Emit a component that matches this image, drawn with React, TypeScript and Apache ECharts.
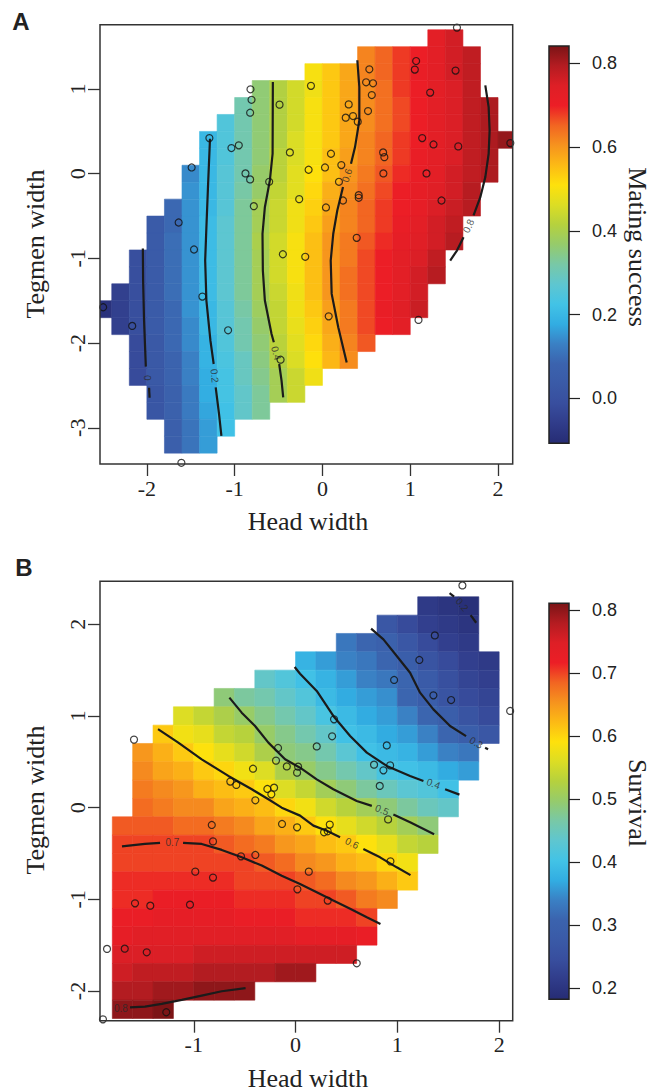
import React, { useEffect, useRef } from "react";
import * as echarts from "echarts";

// ---------------- tick labels ----------------
const headWidthTicksA = [-2, -1, 0, 1, 2];
const tegmenWidthTicksA = [-3, -2, -1, 0, 1];
const matingSuccessTicks = [0.0, 0.2, 0.4, 0.6, 0.8];
const headWidthTicksB = [-1, 0, 1, 2];
const tegmenWidthTicksB = [-2, -1, 0, 1, 2];
const survivalTicks = [0.2, 0.3, 0.4, 0.5, 0.6, 0.7, 0.8];

// ---------------- axis ranges ----------------
const headRangeA = [-2.534, 2.167];
const tegmenRangeA = [-3.428, 1.76];
const matingSuccessRange = [-0.1075, 0.8413];
const headRangeB = [-1.921, 2.133];
const tegmenRangeB = [-2.324, 2.469];
const survivalRange = [0.1826, 0.8106];

// ---------------- observed individuals [head width, tegmen width] ----------------
const pointsA = [
  [1.532, 1.726], [1.067, 1.331], [1.052, 1.23], [1.516, 1.218], [0.534, 1.233], [0.497, 1.08],
  [0.576, 1.068], [-0.131, 1.038], [-0.82, 0.997], [-0.808, 0.873], [-0.824, 0.721], [-0.489, 0.816],
  [1.227, 0.958], [0.562, 0.929], [0.299, 0.819], [0.519, 0.74], [0.265, 0.662], [0.348, 0.681],
  [0.402, 0.615], [-1.288, 0.421], [-1.037, 0.303], [-0.953, 0.335], [-0.371, 0.252], [0.097, 0.236],
  [1.136, 0.421], [1.265, 0.346], [1.547, 0.323], [2.14, 0.362], [0.691, 0.252], [0.705, 0.196],
  [-1.49, 0.074], [-0.877, 0.004], [-0.824, -0.067], [-0.158, 0.047], [0.029, 0.074], [0.215, 0.102],
  [-0.607, -0.095], [0.188, -0.095], [0.694, 0.004], [1.185, 0.004], [-0.782, -0.383], [-0.265, -0.3],
  [0.04, -0.398], [0.234, -0.316], [0.413, -0.253], [0.413, -0.284], [1.356, -0.316], [-1.638, -0.576],
  [-1.463, -0.895], [-0.451, -0.951], [-0.196, -0.981], [0.39, -0.757], [-1.368, -1.451], [-2.498, -1.577],
  [-2.167, -1.797], [-1.075, -1.849], [0.071, -1.684], [1.094, -1.726], [-0.477, -2.196], [-1.607, -3.414],
];

const pointsB = [
  [-1.587, 0.742], [-0.172, 0.651], [-0.192, 0.513], [-0.086, 0.45], [0.025, 0.447], [0.015, 0.382],
  [-0.418, 0.425], [-0.641, 0.284], [-0.582, 0.248], [-0.277, 0.204], [-0.211, 0.218], [-0.238, 0.145],
  [-0.395, 0.08], [1.639, 2.424], [1.368, 1.879], [1.216, 1.611], [0.968, 1.393], [1.354, 1.225],
  [1.528, 1.174], [2.108, 1.055], [0.378, 0.963], [0.359, 0.778], [0.208, 0.668], [0.896, 0.679],
  [0.771, 0.469], [0.929, 0.461], [0.863, 0.407], [0.827, 0.237], [-0.133, -0.178], [0.015, -0.215],
  [-0.823, -0.189], [-0.811, -0.368], [-0.536, -0.531], [-0.395, -0.516], [-0.985, -0.698], [-0.811, -0.763],
  [0.018, -0.891], [-1.577, -1.044], [-1.427, -1.069], [-1.037, -1.058], [-1.852, -1.541], [-1.678, -1.538],
  [-1.462, -1.578], [-1.27, -2.232], [-1.892, -2.309], [0.336, -0.185], [0.28, -0.269], [0.316, -0.258],
  [0.909, -0.128], [0.13, -0.698], [0.932, -0.586], [0.316, -1.014], [0.601, -1.698],
];

// ---------------- fitted surfaces, read row by row ----------------
// [tegmen width of row centre, head width of first cell centre, values of consecutive cells]
const matingSuccessRows = [
  [1.6, 1.3, [0.73, 0.76]],
  [1.4, 0.5, [0.62, 0.65, 0.68, 0.7, 0.73, 0.76, 0.78]],
  [1.2, -0.1, [0.5, 0.54, 0.58, 0.62, 0.65, 0.68, 0.71, 0.73, 0.76, 0.78]],
  [1.0, -0.7, [0.36, 0.41, 0.45, 0.49, 0.54, 0.58, 0.61, 0.64, 0.68, 0.7, 0.73, 0.75, 0.78]],
  [0.8, -0.9, [0.31, 0.36, 0.41, 0.45, 0.5, 0.54, 0.58, 0.61, 0.64, 0.67, 0.7, 0.73, 0.75, 0.78, 0.8]],
  [0.6, -1.1, [0.25, 0.31, 0.36, 0.41, 0.45, 0.5, 0.54, 0.58, 0.61, 0.64, 0.67, 0.7, 0.73, 0.75, 0.78, 0.8]],
  [0.4, -1.3, [0.2, 0.25, 0.31, 0.36, 0.41, 0.46, 0.5, 0.54, 0.58, 0.62, 0.65, 0.68, 0.7, 0.73, 0.75, 0.78, 0.8, 0.82]],
  [0.2, -1.3, [0.2, 0.25, 0.31, 0.36, 0.42, 0.46, 0.5, 0.55, 0.59, 0.62, 0.65, 0.68, 0.71, 0.73, 0.75, 0.78, 0.8]],
  [0.0, -1.5, [0.14, 0.2, 0.26, 0.31, 0.37, 0.42, 0.47, 0.51, 0.55, 0.6, 0.63, 0.66, 0.69, 0.71, 0.73, 0.76, 0.78, 0.8]],
  [-0.2, -1.5, [0.15, 0.2, 0.26, 0.32, 0.37, 0.43, 0.47, 0.52, 0.57, 0.61, 0.64, 0.67, 0.7, 0.72, 0.74, 0.76, 0.79]],
  [-0.4, -1.7, [0.09, 0.15, 0.2, 0.26, 0.33, 0.39, 0.44, 0.49, 0.53, 0.58, 0.62, 0.65, 0.68, 0.7, 0.72, 0.75, 0.77, 0.79]],
  [-0.6, -1.9, [0.04, 0.09, 0.15, 0.21, 0.27, 0.33, 0.39, 0.44, 0.49, 0.54, 0.59, 0.62, 0.65, 0.68, 0.71, 0.73, 0.76, 0.78]],
  [-0.8, -1.9, [0.04, 0.1, 0.15, 0.21, 0.27, 0.33, 0.4, 0.45, 0.5, 0.55, 0.6, 0.63, 0.66, 0.69, 0.72, 0.74, 0.76, 0.79]],
  [-1.0, -2.1, [-0.01, 0.04, 0.1, 0.15, 0.21, 0.27, 0.33, 0.39, 0.45, 0.5, 0.55, 0.6, 0.63, 0.67, 0.7, 0.73, 0.75, 0.78]],
  [-1.2, -2.1, [-0.01, 0.04, 0.1, 0.15, 0.21, 0.27, 0.33, 0.39, 0.45, 0.5, 0.55, 0.6, 0.64, 0.67, 0.7, 0.73, 0.76, 0.79]],
  [-1.4, -2.3, [-0.05, -0.01, 0.04, 0.1, 0.15, 0.21, 0.27, 0.33, 0.39, 0.44, 0.49, 0.55, 0.6, 0.64, 0.67, 0.7, 0.73, 0.76]],
  [-1.6, -2.5, [-0.09, -0.05, -0.01, 0.04, 0.09, 0.15, 0.2, 0.26, 0.32, 0.38, 0.43, 0.49, 0.54, 0.59, 0.63, 0.67, 0.71, 0.74, 0.77]],
  [-1.8, -2.3, [-0.05, -0.01, 0.04, 0.09, 0.14, 0.2, 0.26, 0.31, 0.37, 0.43, 0.48, 0.53, 0.58, 0.63, 0.67, 0.7, 0.73]],
  [-2.0, -2.1, [-0.02, 0.03, 0.09, 0.14, 0.19, 0.25, 0.31, 0.36, 0.42, 0.47, 0.52, 0.57, 0.62, 0.66]],
  [-2.2, -2.1, [-0.02, 0.03, 0.08, 0.13, 0.19, 0.24, 0.29, 0.35, 0.41, 0.46, 0.51, 0.56, 0.61]],
  [-2.4, -2.1, [-0.02, 0.03, 0.08, 0.13, 0.18, 0.23, 0.29, 0.34, 0.39, 0.44, 0.49]],
  [-2.6, -1.9, [0.02, 0.07, 0.12, 0.18, 0.23, 0.28, 0.33, 0.39, 0.44]],
  [-2.8, -1.9, [0.02, 0.07, 0.12, 0.17, 0.22, 0.28, 0.33]],
  [-3.0, -1.7, [0.06, 0.11, 0.16, 0.22]],
  [-3.2, -1.7, [0.06, 0.11, 0.16]],
];

const survivalRows = [
  [2.2, 1.3, [0.21, 0.2, 0.19]],
  [2.0, 0.9, [0.27, 0.24, 0.22, 0.21, 0.2]],
  [1.8, 0.5, [0.33, 0.31, 0.3, 0.27, 0.24, 0.22, 0.21]],
  [1.6, 0.1, [0.38, 0.36, 0.34, 0.33, 0.31, 0.29, 0.26, 0.24, 0.22, 0.21]],
  [1.4, -0.3, [0.44, 0.42, 0.4, 0.38, 0.36, 0.34, 0.33, 0.31, 0.28, 0.25, 0.23, 0.22]],
  [1.2, -0.7, [0.49, 0.47, 0.46, 0.44, 0.42, 0.39, 0.37, 0.36, 0.35, 0.31, 0.29, 0.26, 0.24, 0.23]],
  [1.0, -1.1, [0.56, 0.54, 0.52, 0.5, 0.48, 0.46, 0.44, 0.41, 0.39, 0.37, 0.36, 0.34, 0.31, 0.29, 0.26, 0.24]],
  [0.8, -1.3, [0.61, 0.58, 0.57, 0.54, 0.53, 0.5, 0.48, 0.46, 0.44, 0.4, 0.39, 0.37, 0.36, 0.34, 0.31, 0.29, 0.27]],
  [0.6, -1.5, [0.65, 0.63, 0.61, 0.59, 0.57, 0.55, 0.52, 0.49, 0.48, 0.46, 0.43, 0.4, 0.39, 0.38, 0.36, 0.34, 0.33]],
  [0.4, -1.5, [0.66, 0.64, 0.63, 0.61, 0.6, 0.58, 0.56, 0.52, 0.5, 0.48, 0.46, 0.44, 0.41, 0.4, 0.39, 0.37, 0.36]],
  [0.2, -1.5, [0.67, 0.66, 0.65, 0.63, 0.62, 0.61, 0.59, 0.56, 0.54, 0.51, 0.49, 0.47, 0.45, 0.43, 0.42, 0.4]],
  [0.0, -1.5, [0.68, 0.67, 0.66, 0.66, 0.64, 0.63, 0.62, 0.6, 0.58, 0.55, 0.53, 0.51, 0.49, 0.47, 0.45, 0.44]],
  [-0.2, -1.7, [0.69, 0.69, 0.69, 0.68, 0.68, 0.67, 0.66, 0.64, 0.63, 0.61, 0.59, 0.57, 0.55, 0.53, 0.51, 0.49]],
  [-0.4, -1.7, [0.7, 0.7, 0.7, 0.7, 0.7, 0.69, 0.68, 0.67, 0.65, 0.64, 0.62, 0.61, 0.59, 0.57, 0.54, 0.53]],
  [-0.6, -1.7, [0.7, 0.7, 0.7, 0.7, 0.7, 0.7, 0.7, 0.69, 0.68, 0.66, 0.65, 0.63, 0.62, 0.6, 0.58]],
  [-0.8, -1.7, [0.71, 0.71, 0.71, 0.71, 0.71, 0.71, 0.7, 0.7, 0.7, 0.69, 0.68, 0.66, 0.65, 0.63, 0.61]],
  [-1.0, -1.7, [0.71, 0.71, 0.72, 0.72, 0.72, 0.72, 0.71, 0.71, 0.71, 0.7, 0.7, 0.69, 0.67, 0.66]],
  [-1.2, -1.7, [0.72, 0.72, 0.73, 0.73, 0.73, 0.73, 0.72, 0.72, 0.72, 0.71, 0.71, 0.71, 0.7]],
  [-1.4, -1.7, [0.73, 0.74, 0.74, 0.74, 0.74, 0.74, 0.74, 0.74, 0.74, 0.73, 0.73, 0.73, 0.72]],
  [-1.6, -1.7, [0.75, 0.75, 0.75, 0.75, 0.76, 0.76, 0.76, 0.76, 0.76, 0.76, 0.76, 0.76]],
  [-1.8, -1.7, [0.76, 0.77, 0.77, 0.77, 0.78, 0.78, 0.78, 0.78, 0.79, 0.79]],
  [-2.0, -1.7, [0.78, 0.78, 0.79, 0.79, 0.8, 0.8, 0.8]],
  [-2.2, -1.7, [0.8, 0.8, 0.81]],
];

// ---------------- contour lines (segments split where the label sits) ----------------
const contoursA = [
  { level: "0", segments: [[[-2.046, -0.883], [-2.043, -1.262], [-2.032, -1.735], [-2.012, -2.278]], [[-1.975, -2.527], [-1.969, -2.645]]], label: [-1.99, -2.41] },
  { level: "0.2", segments: [[[-1.281, 0.414], [-1.304, -0.158], [-1.322, -0.631], [-1.336, -1.025], [-1.322, -1.498], [-1.276, -1.971], [-1.239, -2.247]], [[-1.216, -2.523], [-1.178, -2.838], [-1.151, -3.095]]], label: [-1.228, -2.385] },
  { level: "0.4", segments: [[[-0.565, 1.083], [-0.568, 0.236], [-0.599, -0.079], [-0.656, -0.395], [-0.683, -0.709], [-0.679, -1.143], [-0.656, -1.498], [-0.58, -1.892], [-0.554, -1.991]], [[-0.493, -2.247], [-0.466, -2.444], [-0.447, -2.641]]], label: [-0.527, -2.12] },
  { level: "0.6", segments: [[[0.397, 1.34], [0.42, 1.024], [0.42, 0.63], [0.371, 0.315], [0.325, 0.118]], [[0.234, -0.158], [0.169, -0.434], [0.123, -0.709], [0.094, -1.025], [0.105, -1.419], [0.18, -1.814], [0.276, -2.228]]], label: [0.28, -0.02] },
  { level: "0.8", segments: [[[1.855, 1.044], [1.893, 0.787], [1.904, 0.512], [1.893, 0.236], [1.855, -0.04], [1.798, -0.277], [1.721, -0.493]], [[1.607, -0.75], [1.532, -0.907], [1.455, -1.025]]], label: [1.664, -0.617] },
];

const contoursB = [
  { level: "0.2", segments: [[[1.513, 2.339], [1.557, 2.301]], [[1.72, 2.099], [1.774, 2.017]]], label: [1.636, 2.214] },
  { level: "0.3", segments: [[[0.742, 1.952], [0.863, 1.835], [0.994, 1.654], [1.125, 1.472], [1.223, 1.254], [1.354, 1.072], [1.518, 0.891], [1.675, 0.78]], [[1.862, 0.654], [1.891, 0.638]]], label: [1.774, 0.709] },
  { level: "0.4", segments: [[[-0.009, 1.534], [0.044, 1.461], [0.208, 1.273], [0.371, 1.0], [0.536, 0.782], [0.7, 0.6], [0.896, 0.455], [1.125, 0.346], [1.256, 0.291]], [[1.469, 0.2], [1.61, 0.142]]], label: [1.354, 0.262] },
  { level: "0.5", segments: [[[-0.65, 1.2], [-0.529, 1.036], [-0.398, 0.891], [-0.267, 0.709], [-0.103, 0.527], [0.044, 0.436], [0.208, 0.309], [0.371, 0.2], [0.601, 0.073], [0.749, 0.019]], [[0.961, -0.076], [1.125, -0.16], [1.361, -0.291]]], label: [0.85, -0.025] },
  { level: "0.6", segments: [[[-1.351, 0.856], [-1.152, 0.709], [-0.922, 0.527], [-0.66, 0.346], [-0.43, 0.2], [-0.267, 0.091], [-0.136, 0.0], [0.044, -0.087], [0.175, -0.196], [0.307, -0.251], [0.437, -0.324]], [[0.666, -0.45], [0.83, -0.542], [0.994, -0.651], [1.129, -0.736]]], label: [0.555, -0.387] },
  { level: "0.7", segments: [[[-1.705, -0.423], [-1.479, -0.396], [-1.331, -0.385]], [[-1.105, -0.385], [-0.922, -0.396], [-0.725, -0.461], [-0.529, -0.542], [-0.332, -0.632], [-0.136, -0.742], [0.044, -0.834], [0.208, -0.924], [0.371, -1.014], [0.536, -1.104], [0.7, -1.196], [0.834, -1.268]]], label: [-1.209, -0.385] },
  { level: "0.8", segments: [[[-1.626, -2.178], [-1.479, -2.17], [-1.315, -2.141], [-1.118, -2.097], [-0.922, -2.05], [-0.725, -2.003], [-0.491, -1.968]]], label: [-1.715, -2.186] },
];

// ---------------- styling / layout ----------------
const palette = [
  "#262c74", "#303c8a", "#384e9e", "#3a5aa7", "#3b63ae", "#3a80c4", "#32ade2", "#42c3e6",
  "#5ec6d0", "#78c8a7", "#95cb6c", "#b5d13e", "#dcdd24", "#fee10c", "#fcba15", "#f6931e",
  "#f26522", "#ec1e26", "#de1f26", "#b41c21", "#7b1416",
];
const labelRotA: Record<string, number> = { "0": -87, "0.2": -84, "0.4": -76, "0.6": 72, "0.8": 65 };
const labelRotB: Record<string, number> = { "0.2": -50, "0.3": -30, "0.4": -21, "0.5": -22, "0.6": -26, "0.7": 0, "0.8": 0 };

const CELL = 0.2;
const SERIF = '"Liberation Serif", "Times New Roman", serif';
const SANS = '"Liberation Sans", Arial, sans-serif';
const INK = "#222";

const PLOT_A = { left: 100, top: 24.7, width: 412.7, height: 439.3 };
const PLOT_B = { left: 100, top: 581.3, width: 412.7, height: 439.4 };
const BAR_A = { left: 549, top: 46, width: 20, height: 397.3 };
const BAR_B = { left: 549, top: 603.3, width: 20, height: 396 };

function toCells(rows: any[]) {
  const out: number[][] = [];
  rows.forEach(([y, x0, vals]: [number, number, number[]]) => {
    vals.forEach((v, i) => out.push([Math.round((x0 + i * CELL) * 100) / 100, y, v]));
  });
  return out;
}

const renderCell = (_params: any, api: any) => {
  const x = api.value(0);
  const y = api.value(1);
  const h = CELL / 2;
  const a = api.coord([x - h, y + h]);
  const b = api.coord([x + h, y - h]);
  const color = api.visual("color");
  return {
    type: "rect",
    shape: { x: a[0], y: a[1], width: b[0] - a[0], height: b[1] - a[1] },
    style: { fill: color, stroke: color, lineWidth: 0.6 },
  };
};

function plotAxes(gridIndex: number, xr: number[], yr: number[], xt: number[], yt: number[]) {
  const tick = { show: true, length: 12, inside: false, lineStyle: { color: "#333", width: 1.3 } };
  const x = {
    gridIndex, type: "value", position: "bottom", min: xr[0], max: xr[1],
    axisLine: { show: false, onZero: false }, splitLine: { show: false },
    axisTick: { ...tick, customValues: xt },
    axisLabel: { customValues: xt, margin: 13, fontFamily: SERIF, fontSize: 22, color: INK },
  };
  const y = {
    gridIndex, type: "value", position: "left", min: yr[0], max: yr[1],
    axisLine: { show: false, onZero: false }, splitLine: { show: false },
    axisTick: { ...tick, customValues: yt },
    axisLabel: { customValues: yt, rotate: 90, margin: 12, fontFamily: SERIF, fontSize: 22, color: INK },
  };
  return [x, y];
}

function barAxes(gridIndex: number, r: number[], ticks: number[]) {
  const x = { gridIndex, type: "value", show: false, min: 0, max: 1, axisLine: { onZero: false } };
  const y = {
    gridIndex, type: "value", position: "right", min: r[0], max: r[1],
    axisLine: { show: false, onZero: false }, splitLine: { show: false },
    axisTick: { show: true, length: 11, customValues: ticks, lineStyle: { color: INK, width: 1.2 } },
    axisLabel: {
      customValues: ticks, margin: 23, fontFamily: SANS, fontSize: 18, color: INK,
      formatter: (v: number) => v.toFixed(1),
    },
  };
  return [x, y];
}

function contourSeries(contours: any[], axisIndex: number, rot: Record<string, number>) {
  const lines: any[] = [];
  contours.forEach((c) => {
    c.segments.forEach((seg: number[][]) => {
      lines.push({
        type: "line", xAxisIndex: axisIndex, yAxisIndex: axisIndex, data: seg,
        symbol: "none", showSymbol: false, silent: true, z: 3,
        lineStyle: { color: "#1b1b1b", width: 2.2 },
      });
    });
  });
  lines.push({
    type: "scatter", xAxisIndex: axisIndex, yAxisIndex: axisIndex, silent: true, z: 4,
    symbolSize: 1, itemStyle: { color: "transparent" },
    data: contours.map((c) => ({
      value: c.label,
      label: { formatter: c.level, rotate: rot[c.level] },
    })),
    label: { show: true, position: "inside", fontFamily: SANS, fontSize: 10, color: "#2a2a2a" },
  });
  return lines;
}

function pointSeries(points: number[][], axisIndex: number) {
  return {
    type: "scatter", xAxisIndex: axisIndex, yAxisIndex: axisIndex, data: points,
    symbol: "circle", symbolSize: 7, clip: false, silent: true, z: 5,
    itemStyle: { color: "transparent", borderColor: "#111", borderWidth: 1.2 },
  };
}

function text(x: number, y: number, str: string, font: string, rotation = 0) {
  return {
    type: "text", x, y, rotation, z: 50,
    style: {
      text: str, font, fill: INK,
      align: "center", verticalAlign: "middle",
      textAlign: "center", textVerticalAlign: "middle",
    },
  };
}

function bar(b: any) {
  const stops = palette.map((c, i) => ({ offset: i / (palette.length - 1), color: c }));
  return {
    type: "rect", z: 40,
    shape: { x: b.left, y: b.top, width: b.width, height: b.height },
    style: { fill: new echarts.graphic.LinearGradient(0, 1, 0, 0, stops), stroke: INK, lineWidth: 1.5 },
  };
}

function box(p: any) {
  return {
    type: "rect", z: 60,
    shape: { x: p.left, y: p.top, width: p.width, height: p.height },
    style: { fill: "none", stroke: "#333", lineWidth: 1.5 },
  };
}

function buildOption() {
  const [xA, yA] = plotAxes(0, headRangeA, tegmenRangeA, headWidthTicksA, tegmenWidthTicksA);
  const [xB, yB] = plotAxes(1, headRangeB, tegmenRangeB, headWidthTicksB, tegmenWidthTicksB);
  const [xCA, yCA] = barAxes(2, matingSuccessRange, matingSuccessTicks);
  const [xCB, yCB] = barAxes(3, survivalRange, survivalTicks);

  return {
    animation: false,
    backgroundColor: "#fff",
    grid: [
      { ...PLOT_A, containLabel: false },
      { ...PLOT_B, containLabel: false },
      { ...BAR_A, containLabel: false },
      { ...BAR_B, containLabel: false },
    ],
    xAxis: [xA, xB, xCA, xCB],
    yAxis: [yA, yB, yCA, yCB],
    visualMap: [
      { type: "continuous", show: false, seriesIndex: 0, dimension: 2, min: matingSuccessRange[0], max: matingSuccessRange[1], inRange: { color: palette } },
      { type: "continuous", show: false, seriesIndex: 1, dimension: 2, min: survivalRange[0], max: survivalRange[1], inRange: { color: palette } },
    ],
    series: [
      { type: "custom", name: "Mating success", xAxisIndex: 0, yAxisIndex: 0, data: toCells(matingSuccessRows), renderItem: renderCell, encode: { x: 0, y: 1 }, clip: true, silent: true, z: 1 },
      { type: "custom", name: "Survival", xAxisIndex: 1, yAxisIndex: 1, data: toCells(survivalRows), renderItem: renderCell, encode: { x: 0, y: 1 }, clip: true, silent: true, z: 1 },
      ...contourSeries(contoursA, 0, labelRotA),
      ...contourSeries(contoursB, 1, labelRotB),
      pointSeries(pointsA, 0),
      pointSeries(pointsB, 1),
    ],
    graphic: {
      elements: [
        box(PLOT_A),
        box(PLOT_B),
        bar(BAR_A),
        bar(BAR_B),
        text(21, 21, "A", `bold 24px ${SANS}`),
        text(24, 567, "B", `bold 24px ${SANS}`),
        text(308, 521, "Head width", `26px ${SERIF}`),
        text(308, 1078, "Head width", `26px ${SERIF}`),
        text(35.4, 244, "Tegmen width", `26px ${SERIF}`, Math.PI / 2),
        text(35.4, 800, "Tegmen width", `26px ${SERIF}`, Math.PI / 2),
        text(637.5, 247, "Mating success", `26px ${SERIF}`, -Math.PI / 2),
        text(637.5, 803, "Survival", `26px ${SERIF}`, -Math.PI / 2),
      ],
    },
  };
}

export default function App() {
  const ref = useRef<HTMLDivElement>(null);
  useEffect(() => {
    if (!ref.current) return;
    const chart = echarts.init(ref.current, undefined, { renderer: "svg" });
    chart.setOption(buildOption() as any);
    return () => chart.dispose();
  }, []);
  return (
    <div
      ref={ref}
      style={{ position: "absolute", left: 0, top: 0, width: 652, height: 1091, background: "#fff" }}
    />
  );
}
